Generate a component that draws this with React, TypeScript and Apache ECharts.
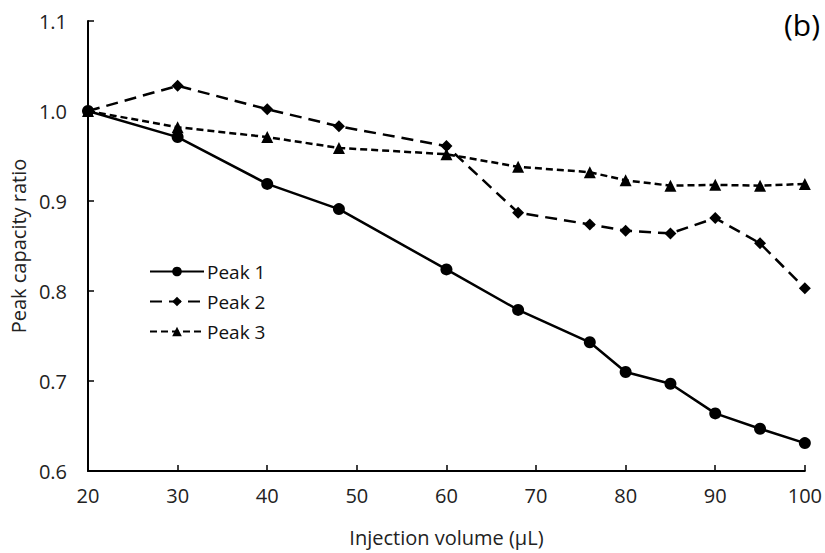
import React, { useEffect, useRef } from "react";
import * as echarts from "echarts";

const volumes = [20, 30, 40, 48, 60, 68, 76, 80, 85, 90, 95, 100];
const peak1 = [1.0, 0.971, 0.919, 0.891, 0.824, 0.779, 0.743, 0.71, 0.697, 0.664, 0.647, 0.631];
const peak2 = [1.0, 1.028, 1.002, 0.983, 0.961, 0.887, 0.874, 0.867, 0.864, 0.881, 0.853, 0.803];
const peak3 = [1.0, 0.982, 0.971, 0.959, 0.952, 0.938, 0.932, 0.923, 0.917, 0.918, 0.917, 0.919];
const seriesNames = ["Peak 1", "Peak 2", "Peak 3"];

const FONT = "'Open Sans', sans-serif";

export default function App() {
  const ref = useRef<HTMLDivElement>(null);
  useEffect(() => {
    document.body.style.margin = "0";
    if (!ref.current) return;
    const chart = echarts.init(ref.current, undefined, { renderer: "svg" });
    const pair = (ys: number[]) => volumes.map((x, i) => [x, ys[i]]);
    const mk = (name: string, ys: number[], symbol: string, size: number, type: any) => ({
      name,
      type: "line",
      data: pair(ys),
      symbol,
      symbolSize: size,
      itemStyle: { color: "#000" },
      lineStyle: { color: "#000", width: 2.5, type },
      z: 3,
    });
    chart.setOption({
      animation: false,
      backgroundColor: "#fff",
      textStyle: { fontFamily: FONT },
      grid: { left: 87, right: 18, top: 21, bottom: 82, containLabel: false },
      legend: {
        orient: "vertical",
        left: 144,
        top: 257,
        itemWidth: 54,
        itemHeight: 12,
        itemGap: 11,
        data: seriesNames,
        textStyle: { fontSize: 19, color: "#111", fontFamily: FONT, padding: [0, 0, 0, -2] },
      },
      xAxis: {
        type: "value",
        min: 20,
        max: 100,
        interval: 10,
        name: "Injection volume (µL)",
        nameLocation: "middle",
        nameGap: 56,
        nameTextStyle: { fontSize: 20, color: "#222", fontFamily: FONT },
        axisLine: { lineStyle: { color: "#000", width: 2 } },
        axisTick: { inside: true, length: 6, lineStyle: { color: "#000", width: 1.5 } },
        axisLabel: { fontSize: 20, color: "#222", margin: 14, fontFamily: FONT },
        splitLine: { show: false },
      },
      yAxis: {
        type: "value",
        min: 0.6,
        max: 1.1,
        interval: 0.1,
        name: "Peak capacity ratio",
        nameLocation: "middle",
        nameGap: 60,
        nameTextStyle: { fontSize: 20, color: "#222", fontFamily: FONT },
        axisLine: { show: true, lineStyle: { color: "#000", width: 2 } },
        axisTick: { show: true, inside: true, length: 6, lineStyle: { color: "#000", width: 1.5 } },
        axisLabel: {
          fontSize: 20,
          color: "#222",
          margin: 21,
          fontFamily: FONT,
          formatter: (v: number) => v.toFixed(1),
        },
        splitLine: { show: false },
      },
      graphic: [
        {
          type: "text",
          right: 5,
          top: 9,
          style: { text: "(b)", fill: "#000", font: `30px ${FONT}` },
        },
      ],
      series: [
        mk("Peak 1", peak1, "circle", 12, "solid"),
        mk("Peak 2", peak2, "diamond", 12, [12, 7]),
        mk("Peak 3", peak3, "triangle", 12, [7, 4]),
      ],
    });
    return () => chart.dispose();
  }, []);
  return <div ref={ref} style={{ width: 825, height: 553 }} />;
}
